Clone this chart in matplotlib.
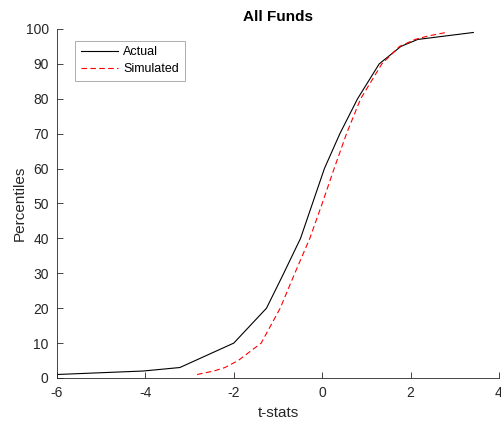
import matplotlib.pyplot as plt

# 百分位 -> t统计量
actual_pct = [1, 2, 3, 10, 20, 30, 40, 50, 60, 70, 80, 90, 95, 97, 99]
actual_t = [-6.0, -4.05, -3.22, -2.0, -1.26, -0.87, -0.49, -0.22, 0.05, 0.40, 0.80, 1.29, 1.78, 2.16, 3.42]

sim_pct = [1, 2, 3, 5, 10, 20, 30, 40, 50, 60, 70, 80, 90, 95, 97, 98, 99]
sim_t = [-2.83, -2.45, -2.2, -1.9, -1.38, -0.95, -0.62, -0.28, 0.0, 0.27, 0.55, 0.87, 1.35, 1.75, 2.1, 2.4, 2.8]

plt.rcParams['font.family'] = ['Liberation Sans', 'DejaVu Sans']
plt.rcParams['axes.unicode_minus'] = False
ax_color = '#262626'

fig = plt.figure(figsize=(5.02, 4.25), dpi=100)
ax = fig.add_axes([0.1135, 0.1106, 0.8805, 0.8212])

ax.plot(actual_t, actual_pct, color='black', lw=0.8, label='Actual')
ax.plot(sim_t, sim_pct, color='red', lw=0.8, ls=(0, (5, 3)), label='Simulated')

ax.set_xlim(-6, 4)
ax.set_ylim(0, 100)
ax.set_xticks([-6, -4, -2, 0, 2, 4])
ax.set_yticks(range(0, 101, 10))
ax.spines['top'].set_visible(False)
ax.spines['right'].set_visible(False)
for s in ['left', 'bottom']:
    ax.spines[s].set_color(ax_color)
    ax.spines[s].set_linewidth(0.6)
ax.tick_params(direction='in', length=4, width=0.6, colors=ax_color, labelsize=10, pad=6)

ax.set_xlabel('t-stats', fontsize=11, color=ax_color)
ax.set_ylabel('Percentiles', fontsize=11, color=ax_color, labelpad=-1)
ax.set_title('All Funds', fontsize=11, fontweight='bold', pad=6)

leg = ax.legend(loc='upper left', bbox_to_anchor=(0.041, 0.966), fontsize=9, fancybox=False,
                handlelength=3.0, borderpad=0.45, labelspacing=0.4, handletextpad=0.4,
                borderaxespad=0)
leg.get_frame().set_edgecolor('#888888')
leg.get_frame().set_linewidth(0.6)

fig.savefig('out.png')
